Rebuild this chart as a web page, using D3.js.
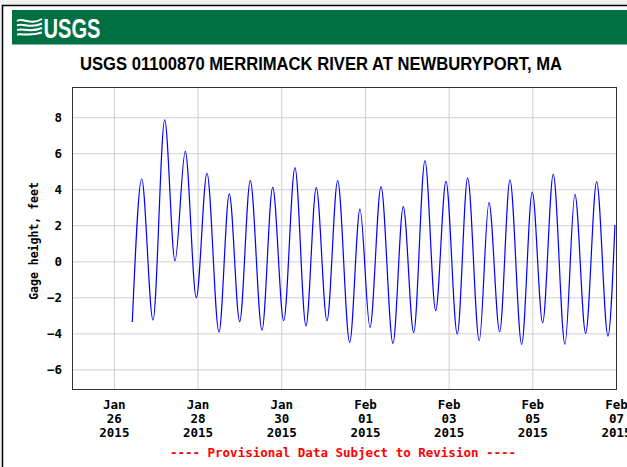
<!DOCTYPE html>
<html>
<head>
<meta charset="utf-8">
<script src="https://cdn.jsdelivr.net/npm/d3@7"></script>
<style>
  body { margin: 0; background: #fff; }
  svg { display: block; }
</style>
</head>
<body>
<div id="plot"></div>
<script>
// Tide extremes (gage height, feet)
const times = [
    "2015-01-26 10:35", "2015-01-26 15:58", "2015-01-26 22:27", "2015-01-27 05:10",
    "2015-01-27 11:04", "2015-01-27 16:58", "2015-01-27 23:17", "2015-01-28 05:25",
    "2015-01-28 12:18", "2015-01-28 18:13", "2015-01-29 00:10", "2015-01-29 06:15",
    "2015-01-29 12:58", "2015-01-29 19:06", "2015-01-30 01:25", "2015-01-30 07:53",
    "2015-01-30 14:11", "2015-01-30 20:06", "2015-01-31 02:14", "2015-01-31 08:22",
    "2015-01-31 15:16", "2015-01-31 21:10", "2015-02-01 02:54", "2015-02-01 09:13",
    "2015-02-01 16:05", "2015-02-01 21:59", "2015-02-02 03:58", "2015-02-02 10:26",
    "2015-02-02 16:35", "2015-02-02 22:29", "2015-02-03 04:58", "2015-02-03 10:55",
    "2015-02-03 17:34", "2015-02-03 23:08", "2015-02-04 05:17", "2015-02-04 11:11",
    "2015-02-04 17:54", "2015-02-04 23:58", "2015-02-05 05:56", "2015-02-05 12:01",
    "2015-02-05 18:43", "2015-02-06 00:27", "2015-02-06 06:36", "2015-02-06 12:55",
    "2015-02-06 19:23", "2015-02-06 23:24"
];
const heights = [
    -3.37, 4.57, -3.26, 7.85,
    0.03, 6.11, -2.02, 4.89,
    -3.93, 3.74, -3.35, 4.48,
    -3.82, 4.11, -3.30, 5.20,
    -3.59, 4.09, -3.30, 4.48,
    -4.50, 2.90, -3.67, 4.15,
    -4.56, 3.04, -3.96, 5.59,
    -2.74, 4.44, -4.04, 4.63,
    -4.41, 3.26, -3.91, 4.52,
    -4.61, 3.85, -3.41, 4.83,
    -4.60, 3.72, -4.00, 4.42,
    -4.15, 2.02
];
const xTicks = ["2015-01-26", "2015-01-28", "2015-01-30", "2015-02-01", "2015-02-03", "2015-02-05", "2015-02-07"];
const yTicks = [-6, -4, -2, 0, 2, 4, 6, 8];

const width = 627;
const height = 467;
const plot = { left: 72, right: 616, top: 87, bottom: 389 };

const parseTime = d3.timeParse("%Y-%m-%d %H:%M");
const parseDay = d3.timeParse("%Y-%m-%d");
const data = times.map((t, i) => ({ date: parseTime(t), value: heights[i] }));

const svg = d3.select("#plot")
    .append("svg")
    .attr("width", width)
    .attr("height", height);

// outer frame
svg.append("rect").attr("width", width).attr("height", height).attr("fill", "#f1f1f1");
svg.append("rect")
    .attr("x", 2.5).attr("y", 5.5)
    .attr("width", width + 10).attr("height", height + 10)
    .attr("fill", "#fff").attr("stroke", "#000").attr("stroke-width", 1.5);

// USGS banner
svg.append("rect")
    .attr("x", 12).attr("y", 10)
    .attr("width", width - 12).attr("height", 34)
    .attr("fill", "#006f41");
svg.append("line")
    .attr("x1", 12).attr("x2", width).attr("y1", 44.5).attr("y2", 44.5)
    .attr("stroke", "#7fb79d");

const logo = svg.append("g").attr("fill", "none").attr("stroke", "#fff").attr("stroke-width", 2);
[21, 25.5, 30, 34.5].forEach((y, i) => {
    logo.append("path")
        .attr("d", `M17,${y} C23,${y - 4 + i} 30,${y + 5 - i} 42,${y - 2}`);
});
svg.append("text")
    .attr("x", 43.5).attr("y", 37.5)
    .attr("fill", "#fff")
    .attr("font-family", "Liberation Sans, Arial, sans-serif")
    .attr("font-weight", "bold")
    .attr("font-size", 27)
    .attr("textLength", 57)
    .attr("lengthAdjust", "spacingAndGlyphs")
    .text("USGS");

// title
svg.append("text")
    .attr("x", 80).attr("y", 70)
    .attr("fill", "#000")
    .attr("font-family", "Liberation Sans, Arial, sans-serif")
    .attr("font-weight", "bold")
    .attr("font-size", 18)
    .attr("textLength", 482)
    .attr("lengthAdjust", "spacingAndGlyphs")
    .text("USGS 01100870 MERRIMACK RIVER AT NEWBURYPORT, MA");

// scales
const xScale = d3.scaleTime()
    .domain([parseDay("2015-01-25"), parseDay("2015-02-07")])
    .range([plot.left, plot.right]);
const yScale = d3.scaleLinear()
    .domain([-7.09, 9.68])
    .range([plot.bottom, plot.top]);

const mono = "DejaVu Sans Mono, monospace";

// grid + axes
const gx = svg.append("g")
    .attr("transform", `translate(0,${plot.bottom})`)
    .call(d3.axisBottom(xScale)
        .tickValues(xTicks.map(parseDay))
        .tickSize(-(plot.bottom - plot.top))
        .tickFormat(""));
gx.select(".domain").remove();
gx.selectAll(".tick line").attr("stroke", "#d0d0d0");
const fmts = [d3.timeFormat("%b"), d3.timeFormat("%d"), d3.timeFormat("%Y")];
gx.selectAll(".tick text").remove();
gx.selectAll(".tick").append("text")
    .attr("fill", "#000")
    .attr("text-anchor", "middle")
    .style("font-family", mono)
    .style("font-weight", "bold")
    .style("font-size", "12.5px")
    .each(function (d) {
        const t = d3.select(this);
        fmts.forEach((f, i) => {
            t.append("tspan").attr("x", 0).attr("y", 20 + i * 14).text(f(d));
        });
    });

const gy = svg.append("g")
    .attr("transform", `translate(${plot.left},0)`)
    .call(d3.axisLeft(yScale)
        .tickValues(yTicks)
        .tickSize(-(plot.right - plot.left))
        .tickPadding(10));
gy.select(".domain").remove();
gy.selectAll(".tick line").attr("stroke", "#d0d0d0");
gy.selectAll(".tick text")
    .attr("fill", "#000")
    .style("font-family", mono)
    .style("font-weight", "bold")
    .style("font-size", "12.5px");

svg.append("text")
    .attr("transform", `translate(38,${(plot.top + plot.bottom) / 2 + 3}) rotate(-90)`)
    .attr("text-anchor", "middle")
    .style("font-family", mono)
    .style("font-weight", "bold")
    .style("font-size", "11.5px")
    .text("Gage height, feet");

// series
const line = d3.line()
    .x((d) => xScale(d.date))
    .y((d) => yScale(d.value))
    .curve(d3.curveMonotoneX);
svg.append("path")
    .datum(data)
    .attr("fill", "none")
    .attr("stroke", "#0000ff")
    .attr("stroke-width", 1.2)
    .attr("d", line);

// plot frame
svg.append("rect")
    .attr("x", plot.left + 0.5).attr("y", plot.top + 0.5)
    .attr("width", plot.right - plot.left).attr("height", plot.bottom - plot.top)
    .attr("fill", "none")
    .attr("stroke", "#333");

// footer
svg.append("text")
    .attr("x", 343).attr("y", 457)
    .attr("text-anchor", "middle")
    .attr("fill", "#ff0000")
    .style("font-family", mono)
    .style("font-weight", "bold")
    .style("font-size", "12.5px")
    .text("---- Provisional Data Subject to Revision ----");
</script>
</body>
</html>
